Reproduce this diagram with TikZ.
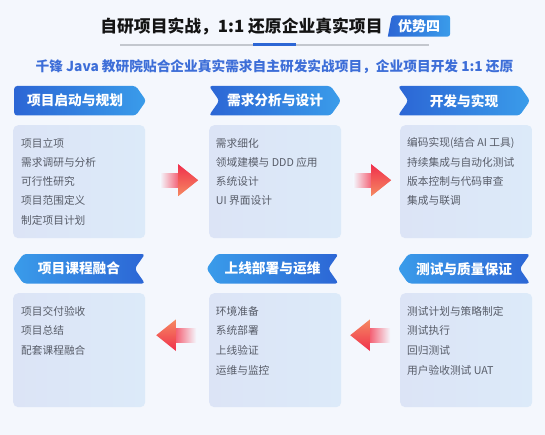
\documentclass[tikz,border=0pt]{standalone}
\usepackage{fontspec}
\setmainfont{Noto Sans CJK SC}
\usetikzlibrary{positioning,calc,shapes.symbols}
\definecolor{bgc}{HTML}{F4F7FD}
\definecolor{hddark}{HTML}{2C66D5}
\definecolor{hdlight}{HTML}{3A9CEA}
\definecolor{boxl}{HTML}{DCE4F6}
\definecolor{boxr}{HTML}{DCEAF9}
\definecolor{bodytxt}{HTML}{575C68}
\definecolor{subblue}{HTML}{3D6ED8}
\definecolor{arrred}{HTML}{F02F4C}
\definecolor{arrpink}{HTML}{F45C70}
\definecolor{arrorange}{HTML}{F58A62}
\definecolor{linegray}{HTML}{C3C7CE}

\begin{document}
\begin{tikzpicture}[
  x=1pt, y=-1pt,
  hd/.style={signal, signal pointer angle=110, minimum width=132pt, minimum height=29.5pt,
             inner sep=0pt, text=white, rounded corners=3pt,
             font=\fontsize{13.7}{16}\selectfont\bfseries},
  hdr/.style={hd, signal to=east, left color=hddark, right color=hdlight},
  hdl/.style={hd, signal to=west, signal from=east, left color=hdlight, right color=hddark},
  card/.style={rectangle, rounded corners=5pt, minimum width=132pt, minimum height=113pt,
               anchor=north west, left color=boxl, right color=boxr},
  item/.style={anchor=west, inner sep=0pt, text=bodytxt, font=\fontsize{10.7}{12}\selectfont}
]
\fill[bgc] (0,0) rectangle (545,435);
\useasboundingbox (0,0) rectangle (545,435);

% title and badge
\node[font=\fontsize{16.8}{20}\selectfont\bfseries, text=black!92] (title) at (241.5,26)
  {自研项目实战，1:1 还原企业真实项目};
\node[font=\fontsize{14}{16}\selectfont\bfseries, text=white, minimum width=62pt,
      minimum height=21pt, inner sep=0pt] (tag) at (419,26) {};
\shade[left color=hddark, right color=hdlight]
  ($(tag.south west)!0.5!(tag.south east)$) -- (tag.south west)
  [rounded corners=3pt] -- ([xshift=4pt]tag.north west) -- (tag.north east)
  -- (tag.south east) -- cycle;
\node[font=\fontsize{14}{16}\selectfont\bfseries, text=white] at (tag) {优势四};
\draw[linegray, line width=1.5pt] (120,45) -- (429,45);
\draw[hddark, line width=3pt] (253,45) -- (296,45);
\node[font=\fontsize{13.7}{16}\selectfont\bfseries, text=subblue] (sub) at (274.5,67)
  {千锋 Java 教研院贴合企业真实需求自主研发实战项目，企业项目开发 1:1 还原};

% headers
\node[hdr] (h1) at (75,100.75) {项目启动与规划};
\node[hdr, signal from=west] (h2) at (275,100.75) {需求分析与设计};
\node[hdr, signal from=west] (h3) at (464,100.75) {开发与实现};
\node[hdl] (h4) at (79,268.75) {项目课程融合};
\node[hdl] (h5) at (272.5,268.75) {上线部署与运维};
\node[hdl] (h6) at (464,268.75) {测试与质量保证};

% cards
\node[card] (c1) at (13,125) {};
\node[card] (c2) at (209,125) {};
\node[card] (c3) at (400,125) {};
\node[card, minimum height=114pt] (c4) at (13,293) {};
\node[card, minimum height=114pt] (c5) at (209,293) {};
\node[card, minimum height=114pt] (c6) at (400,293) {};

\foreach \t [count=\i] in {项目立项, 需求调研与分析, 可行性研究, 项目范围定义, 制定项目计划}
  \node[item] (c1-\i) at (21,{143.3+19.2*(\i-1)}) {\t};
\foreach \t [count=\i] in {需求细化, 领域建模与 DDD 应用, 系统设计, UI 界面设计}
  \node[item] (c2-\i) at (215.7,{143.3+19.2*(\i-1)}) {\t};
\foreach \t [count=\i] in {编码实现(结合 AI 工具), 持续集成与自动化测试, 版本控制与代码审查, 集成与联调}
  \node[item] (c3-\i) at (407,{143.3+19.2*(\i-1)}) {\t};
\foreach \t [count=\i] in {项目交付验收, 项目总结, 配套课程融合}
  \node[item] (c4-\i) at (21,{311.3+19.6*(\i-1)}) {\t};
\foreach \t [count=\i] in {环境准备, 系统部署, 上线验证, 运维与监控}
  \node[item] (c5-\i) at (215.7,{311.3+19.6*(\i-1)}) {\t};
\foreach \t [count=\i] in {测试计划与策略制定, 测试执行, 回归测试, 用户验收测试 UAT}
  \node[item] (c6-\i) at (407,{311.3+19.6*(\i-1)}) {\t};

% flow arrows
\coordinate (m1) at ($(c1.east)!0.5!(c2.west)+(2,-1.5)$);
\coordinate (m2) at ($(c2.east)!0.5!(c3.west)+(1.5,-1.5)$);
\coordinate (m3) at ($(c4.east)!0.5!(c5.west)+(-2,-15)$);
\coordinate (m4) at ($(c5.east)!0.5!(c6.west)+(-1.5,-15)$);
\foreach \m in {m1, m2} {
  \shade[left color=bgc, right color=arrpink]
    ($(\m)+(-19,-7)$) rectangle ($(\m)+(0,7)$);
  \shade[top color=arrred, bottom color=arrorange]
    ($(\m)+(-1,-16)$) -- ($(\m)+(19,0)$) -- ($(\m)+(-1,16)$) -- cycle;
}
\foreach \m in {m3, m4} {
  \shade[left color=arrpink, right color=bgc]
    ($(\m)+(0,-7)$) rectangle ($(\m)+(21,7)$);
  \shade[top color=arrorange, bottom color=arrred]
    ($(\m)+(1,-16)$) -- ($(\m)+(-19,0)$) -- ($(\m)+(1,16)$) -- cycle;
}
\end{tikzpicture}
\end{document}
